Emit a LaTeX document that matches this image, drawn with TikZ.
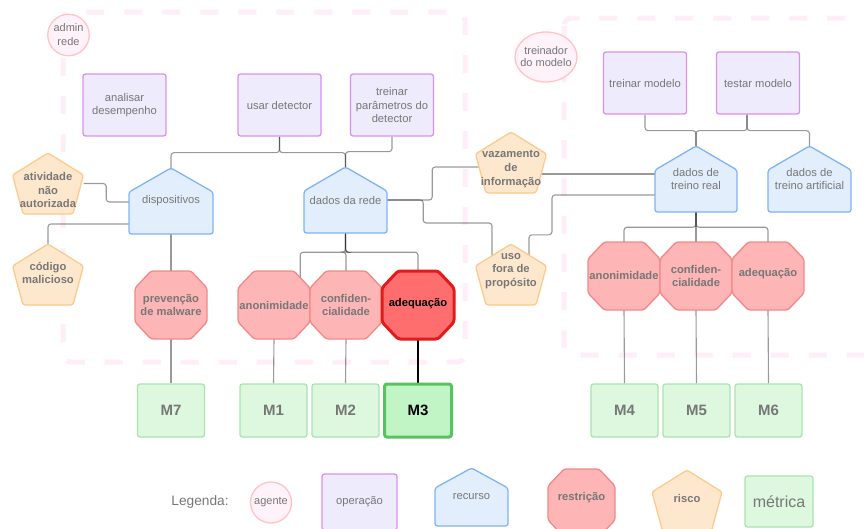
\documentclass[tikz,border=0pt]{standalone}
\usepackage{fontspec}
\setmainfont{Liberation Sans}
\usetikzlibrary{calc,shapes.geometric}

\definecolor{txtgray}{HTML}{777777}
\definecolor{opfill}{HTML}{EEEBFC}
\definecolor{opline}{HTML}{DA90F2}
\definecolor{resfill}{HTML}{E3EEFD}
\definecolor{resline}{HTML}{7FB4F2}
\definecolor{rstfill}{HTML}{FDB5B5}
\definecolor{rstline}{HTML}{F28888}
\definecolor{rsthotfill}{HTML}{FF6E6E}
\definecolor{rsthotline}{HTML}{E3191A}
\definecolor{riskfill}{HTML}{FEE8CD}
\definecolor{riskline}{HTML}{FCC98F}
\definecolor{metfill}{HTML}{DEF8E0}
\definecolor{metline}{HTML}{A9E3AF}
\definecolor{methotfill}{HTML}{C2F5C5}
\definecolor{methotline}{HTML}{58C260}
\definecolor{agfill}{HTML}{FFF2F8}
\definecolor{agline}{HTML}{FFC3C8}
\definecolor{zonecol}{HTML}{FFEDF8}

\pgfdeclarelayer{zones}
\pgfdeclarelayer{wires}
\pgfsetlayers{zones,wires,main}

\tikzset{
  txt/.style={text=txtgray, font=\fontsize{11.2pt}{13.8pt}\selectfont, align=center, inner sep=0pt},
  btxt/.style={txt, font=\fontsize{11.2pt}{13.8pt}\selectfont\bfseries},
  hotbtxt/.style={btxt, text=black},
  mtxt/.style={txt, font=\fontsize{15pt}{18pt}\selectfont\bfseries},
  zone/.style={draw=zonecol, line width=5pt, dash pattern=on 18pt off 20pt, rounded corners=8pt},
  agent/.style={draw=agline, fill=agfill, line width=1.3pt, inner sep=0pt},
  opbox/.style={txt, draw=opline, fill=opfill, line width=1.3pt, rounded corners=2.5pt},
  res/.style={draw=resline, fill=resfill, line width=1.3pt, rounded corners=2.5pt, line join=round},
  rst/.style={draw=rstline, fill=rstfill, line width=1.3pt, rounded corners=2.5pt, line join=round},
  rsthot/.style={draw=rsthotline, fill=rsthotfill, line width=3pt, rounded corners=2.5pt, line join=round},
  risk/.style={draw=riskline, fill=riskfill, line width=1.3pt, rounded corners=2.5pt, line join=round},
  metbox/.style={mtxt, draw=metline, fill=metfill, line width=1.3pt, rounded corners=2.5pt,
                 minimum width=67pt, minimum height=53pt},
  methot/.style={metbox, text=black, draw=methotline, fill=methotfill, line width=3pt},
  conn/.style={draw=black, draw opacity=0.4, line width=1.1pt, rounded corners=3pt},
  hotconn/.style={draw=black, line width=1.5pt},
}

% house-shaped resource: style, name, x1, x2, y of peak, y of shoulders, y of base, text
\newcommand{\housenode}[8]{%
  \draw[#1] ({#3},{#6}) -- ({(#3+#4)/2},{#5}) -- ({#4},{#6}) -- ({#4},{#7}) -- ({#3},{#7}) -- cycle;
  \node[txt, minimum width={(#4-#3)*1pt}, minimum height={(#7-#5)*1pt}] (#2)
    at ({(#3+#4)/2},{(#5+#7)/2}) {#8};
}

% octagon: style, name, cx, cy, half width, half height, text style, text, text shift
\newcommand{\octnode}[9]{%
  \draw[#1] ({#3-#5+16},{#4-#6}) -- ({#3+#5-16},{#4-#6}) -- ({#3+#5},{#4-#6+17})
    -- ({#3+#5},{#4+#6-17}) -- ({#3+#5-16},{#4+#6}) -- ({#3-#5+16},{#4+#6})
    -- ({#3-#5},{#4+#6-17}) -- ({#3-#5},{#4-#6+17}) -- cycle;
  \node[inner sep=0pt, minimum width={2*#5*1pt}, minimum height={2*#6*1pt}] (#2) at (#3,#4) {};
  \node[#7] (#2-t) at ($(#2)+(0,#9)$) {#8};
}

% pentagon risk: style, name, cx, y top, y base, half width, text, text shift
\newcommand{\pentnode}[8]{%
  \draw[#1] ({#3},{#4}) -- ({#3+#6},{#4+22}) -- ({#3+#6-10.5},{#5})
    -- ({#3-#6+10.5},{#5}) -- ({#3-#6},{#4+22}) -- cycle;
  \node[inner sep=0pt, minimum width={2*#6*1pt}, minimum height={(#5-#4)*1pt}] (#2)
    at (#3,{(#4+#5)/2}) {};
  \node[btxt] (#2-t) at ($(#2)+(0,#8)$) {#7};
}

\begin{document}
\begin{tikzpicture}[x=1pt, y=-1pt]
\useasboundingbox (0,0) rectangle (864,528);

% dashed agent zones
\begin{pgfonlayer}{zones}
  \draw[zone] (63,12) rectangle (465,362);
  \draw[zone] (564,18) rectangle (890,355);
\end{pgfonlayer}

% agents
\node[agent, circle, minimum size=41.5pt] (admin) at (68.5,35) {};
\node[txt, font=\fontsize{11pt}{14pt}\selectfont] (admin-t) at (admin) {admin\\rede};
\node[agent, ellipse, minimum width=62pt, minimum height=50pt] (trein) at (546,57) {};
\node[txt, font=\fontsize{11pt}{12pt}\selectfont] (trein-t) at (trein) {treinador\\do modelo};

% operations
\node[opbox, minimum width=83pt, minimum height=62pt] (anal) at (124.5,105) {analisar\\desempenho};
\node[opbox, minimum width=83pt, minimum height=62pt] (ud) at (279.5,105) {usar detector};
\node[opbox, minimum width=83pt, minimum height=62pt] (tp) at (392,105) {treinar\\parâmetros do\\detector};
\node[opbox, minimum width=83pt, minimum height=62pt] (tm) at (645,83) {treinar modelo};
\node[opbox, minimum width=83pt, minimum height=62pt] (ts) at (758,83) {testar modelo};

% resources
\housenode{res}{disp}{129}{213}{168}{192}{234}{dispositivos}
\housenode{res}{dr}{304}{387}{167}{191}{233}{dados da rede}
\housenode{res}{dtr}{655}{737}{146}{170}{212}{dados de\\treino real}
\housenode{res}{dta}{768}{851}{146}{170}{212}{dados de\\treino artificial}

% risks
\pentnode{risk}{atv}{48}{153}{214}{35.5}{atividade\\não\\autorizada}{6.5}
\pentnode{risk}{cod}{48}{244}{305}{35.5}{código\\malicioso}{-1.5}
\pentnode{risk}{vaz}{511}{132}{193}{35.5}{vazamento\\de\\informação}{6.5}
\pentnode{risk}{uso}{511}{244}{305}{35.5}{uso\\fora de\\propósito}{-3.5}

% restrictions
\octnode{rst}{prev}{171}{305}{36}{34}{btxt}{prevenção\\de malware}{0}
\octnode{rst}{ano1}{274}{305}{36}{34}{btxt}{anonimidade}{0}
\octnode{rst}{conf1}{346}{305}{36}{34}{btxt}{confiden-\\cialidade}{0}
\octnode{rsthot}{adq1}{418}{305}{36}{34}{hotbtxt}{adequação}{-1}
\octnode{rst}{ano2}{624}{276}{36}{34}{btxt}{anonimidade}{-1}
\octnode{rst}{conf2}{696}{276}{36}{34}{btxt}{confiden-\\cialidade}{0}
\octnode{rst}{adq2}{768}{276}{36}{34}{btxt}{adequação}{-2}

% metrics
\node[metbox] (m7) at (171,410.5) {M7};
\node[metbox] (m1) at (273.5,410.5) {M1};
\node[metbox] (m2) at (345.5,410.5) {M2};
\node[methot] (m3) at (418,410.5) {M3};
\node[metbox] (m4) at (624.5,410.5) {M4};
\node[metbox] (m5) at (696.5,410.5) {M5};
\node[metbox] (m6) at (768.5,410.5) {M6};

% connectors
\begin{pgfonlayer}{wires}
  \draw[conn] (ud.south) -- ++(0,16) -| (disp.north);
  \draw[conn] (ud.south) -- ++(0,16) -| (dr.north);
  \draw[conn] (tp.south) -- ++(0,15) -| (dr.north);
  \draw[conn] (atv.east) -| ($(atv.east)!0.5!(disp.west)$) |- ($(disp.west)+(0,1)$);
  \draw[conn] (cod.north) |- ($(disp.west)+(0,23)$);
  \draw[conn] (disp.south) -- (prev.north);
  \draw[conn] (prev.south) -- (m7.north);
  \draw[conn] (dr.south) -- ++(0,19) -| ($(ano1.north east)+(-10,6.4)$);
  \draw[conn] (dr.south) -- ++(0,19) -| (conf1.north);
  \draw[conn] (dr.south) -- ++(0,19) -| (adq1.north);
  \draw[conn] (ano1.south) -- (m1.north);
  \draw[conn] (conf1.south) -- (m2.north);
  \draw[hotconn] (adq1.south) -- (m3.north);
  \draw[conn] (dr.east) -- ++(45,0) |- ($(vaz.west)+(3.5,4.5)$);
  \draw[conn] (dr.east) -- ++(36,0) -- ++(0,23) -| ($(uso.north)+(-19,11.6)$);
  \draw[conn] ($(vaz.east)+(-5.5,11.5)$) -- ($(dtr.west)+(0,-5)$);
  \draw[conn] ($(uso.north)+(18,11.2)$) |- ($(uso.north)+(41,-9)$) |- ($(dtr.west)+(0,16)$);
  \draw[conn] (tm.south) -- ++(0,16) -| (dtr.north);
  \draw[conn] ($(ts.south)+(-11,0)$) -- ++(0,16) -| (dtr.north);
  \draw[conn] ($(ts.south)+(-11,0)$) -- ++(0,16) -| (dta.north);
  \draw[conn] (dtr.south) -- ++(0,15) -| (ano2.north);
  \draw[conn] (dtr.south) -- ++(0,15) -| (conf2.north);
  \draw[conn] (dtr.south) -- ++(0,15) -| (adq2.north);
  \draw[conn] (ano2.south) -- (m4.north);
  \draw[conn] (conf2.south) -- (m5.north);
  \draw[conn] (adq2.south) -- (m6.north);
\end{pgfonlayer}

% legend
\node[txt, font=\fontsize{13.7pt}{16pt}\selectfont] (leg) at (200,502) {Legenda:};
\node[agent, circle, minimum size=41pt, text=txtgray, font=\fontsize{11pt}{13pt}\selectfont] (lg-ag) at (271,502.5) {agente};
\node[opbox, minimum width=75pt, minimum height=56pt] (lg-op) at (359.5,502) {operação};
\housenode{res}{lg-res}{435}{508}{468}{488}{526}{recurso}
\octnode{rst}{lg-rst}{581.5}{503}{33.5}{34}{btxt}{restrição}{-5}
\pentnode{risk}{lg-risk}{687}{470}{531}{35}{risco}{-2.5}
\node[metbox, font=\fontsize{16pt}{18pt}\selectfont, minimum width=68pt, minimum height=51pt] (lg-met) at (779,501.5) {métrica};
\end{tikzpicture}
\end{document}
